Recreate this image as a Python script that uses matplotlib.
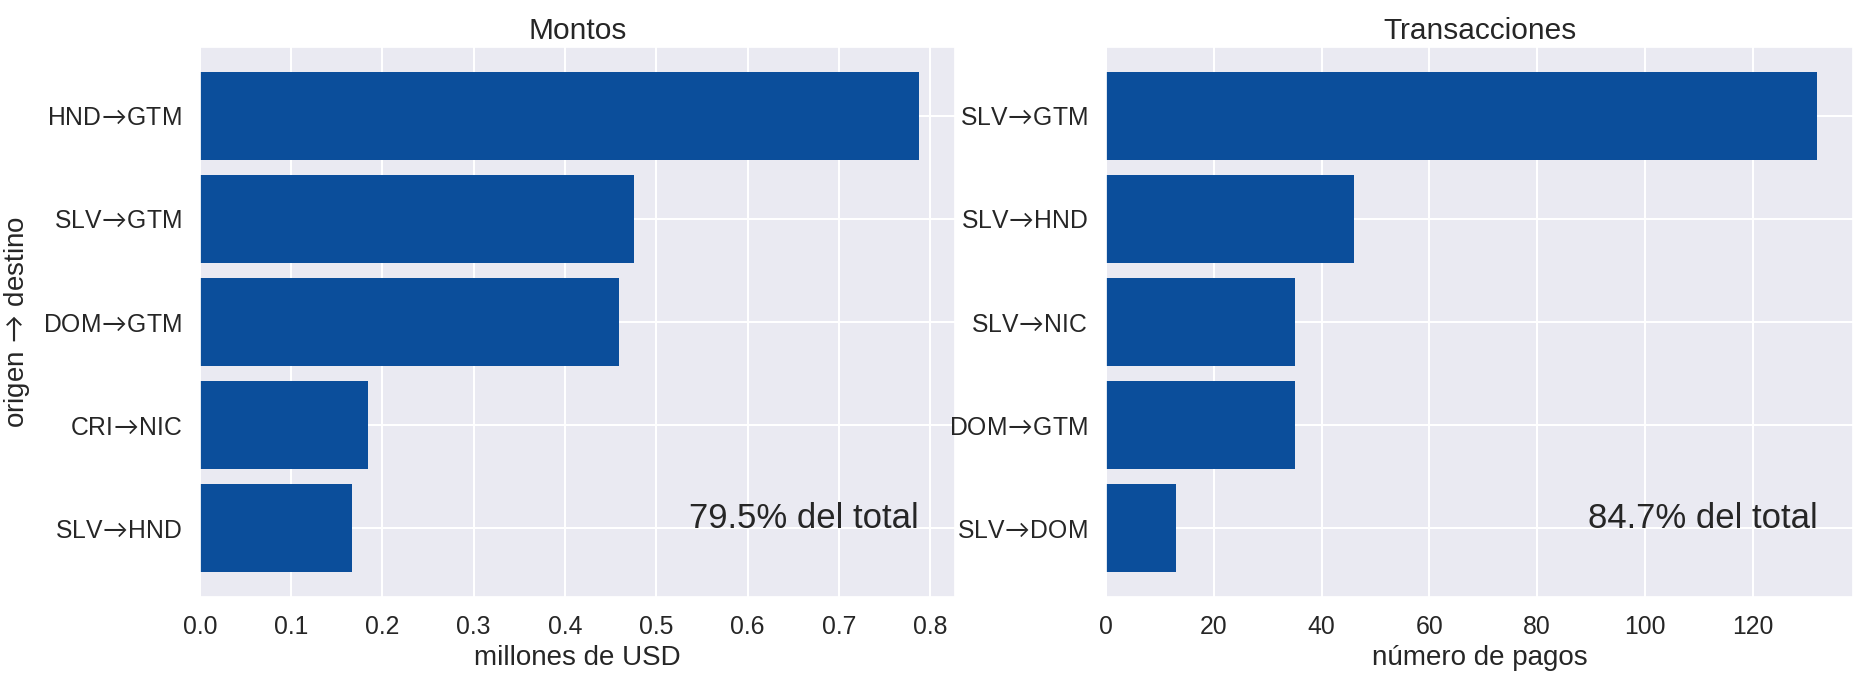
import matplotlib
matplotlib.use("Agg")
import matplotlib.pyplot as plt
import seaborn as sns

# left panel: montos (millones de USD)
montos_rutas = ["HND→GTM", "SLV→GTM", "DOM→GTM", "CRI→NIC", "SLV→HND"]
montos_vals  = [0.788, 0.476, 0.459, 0.184, 0.167]
montos_share = "79.5% del total"

# right panel: transacciones (numero de pagos)
trans_rutas = ["SLV→GTM", "SLV→HND", "SLV→NIC", "DOM→GTM", "SLV→DOM"]
trans_vals  = [132, 46, 35, 35, 13]
trans_share = "84.7% del total"

BAR_COLOR = "#0b4e9b"
ARROW     = r"$\!\rightarrow\!$"

sns.set_theme(style="darkgrid")
plt.rcParams["font.family"]      = ["Liberation Sans", "DejaVu Sans"]
plt.rcParams["mathtext.fontset"] = "custom"
plt.rcParams["mathtext.rm"]      = "Lato"
plt.rcParams["mathtext.it"]      = "Lato"
plt.rcParams["grid.linewidth"]   = 1.5

fig = plt.figure(figsize=(18.65, 6.74), dpi=100)
ax1 = fig.add_axes([0.1072, 0.1142, 0.5121 - 0.1072, 0.9303 - 0.1142])
ax2 = fig.add_axes([0.5930, 0.1142, 0.9936 - 0.5930, 0.9303 - 0.1142])

panels = [
    (ax1, montos_rutas, montos_vals, montos_share, "Montos", "millones de USD"),
    (ax2, trans_rutas, trans_vals, trans_share, "Transacciones", "número de pagos"),
]

for ax, rutas, vals, share, title, xlabel in panels:
    pos = list(range(len(rutas)))
    ax.barh(pos, vals, height=0.85, color=BAR_COLOR, linewidth=0)
    ax.set_yticks(pos, [r.replace("→", ARROW) for r in rutas])
    ax.invert_yaxis()
    ax.set_title(title, fontsize=21.5)
    ax.set_xlabel(xlabel, fontsize=20)
    ax.tick_params(axis="both", labelsize=17.8, pad=7)
    # share label sits right-aligned on the largest bar's end, at the last row
    ax.text(max(vals), pos[-1], share, ha="right", va="baseline", fontsize=25, color=".15")

ax1.set_ylabel("origen " + ARROW + " destino", fontsize=20, labelpad=8)

fig.savefig("out.png", dpi=100)
